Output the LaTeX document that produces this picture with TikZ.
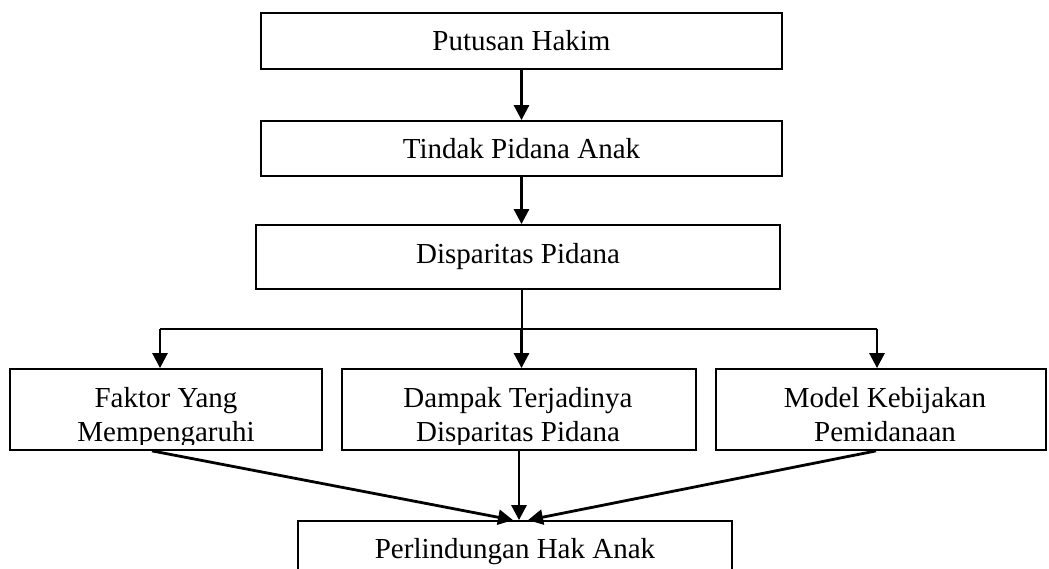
\documentclass[tikz,border=0pt]{standalone}
\usepackage{fontspec}
\setmainfont{Liberation Serif}
\usetikzlibrary{arrows.meta}
\begin{document}
\begin{tikzpicture}[x=1pt,y=1pt,
  boxnode/.style={draw=black, line width=1.8pt, rectangle, inner sep=0pt, font=\fontsize{29}{34}\selectfont},
  txt/.style={inner sep=0pt, align=center, font=\fontsize{29}{34}\selectfont},
  arr/.style={draw=black, line width=2.8pt, -{Triangle[length=15pt,width=15pt]}},
  plain/.style={draw=black, line width=2pt}
]
\useasboundingbox (0,0) rectangle (1049,568);
\clip (0,0) rectangle (1049,568);
\fill[white] (0,0) rectangle (1049,568);

% top chain
\node[boxnode, minimum width=521pt, minimum height=56pt] (b1) at (521.5,527) {Putusan Hakim};
\node[boxnode, minimum width=521pt, minimum height=55pt] (b2) at (521.5,419.5) {Tindak Pidana Anak};
\node[boxnode, minimum width=524pt, minimum height=64pt] (b3) at (518,311) {Disparitas Pidana};

% bottom row boxes
\node[boxnode, minimum width=312pt, minimum height=81pt] (b4) at (166,158.5) {};
\node[boxnode, minimum width=354pt, minimum height=81pt] (b5) at (519,158.5) {};
\node[boxnode, minimum width=330pt, minimum height=81pt] (b6) at (881,158.5) {};
\node[boxnode, minimum width=434pt, minimum height=60pt] (b7) at (515,17) {};

\begin{scope}
\clip (0,124) rectangle (1049,199);
\node[txt, anchor=base] (t4) at (166,127) {Faktor Yang\\Mempengaruhi};
\node[txt, anchor=base] (t5) at (518,127) {Dampak Terjadinya\\Disparitas Pidana};
\node[txt, anchor=base] (t6) at (885,127) {Model Kebijakan\\Pemidanaan};
\end{scope}
\node[txt, anchor=base] (t7) at (515,10) {Perlindungan Hak Anak};

% connectors
\draw[arr] (b1.south) -- (b2.north);
\draw[arr] (b2.south) -- (b2.south |- b3.north);
\coordinate (hub) at (521.5,239);
\coordinate (hl) at (160,239);
\coordinate (hr) at (877,239);
\draw[plain] (hub |- b3.south) -- (hub);
\draw[plain] (hl) -- (hr);
\draw[arr] (hl) -- (hl |- b4.north);
\draw[arr] (hub) -- (hub |- b5.north);
\draw[arr] (hr) -- (hr |- b6.north);
\draw[arr] (b5.south) -- (b5.south |- b7.north);
\draw[arr] ([xshift=-14pt]b4.south) -- ([xshift=-2pt]b7.north);
\draw[arr] ([xshift=-5pt]b6.south) -- ([xshift=13pt]b7.north);
\end{tikzpicture}
\end{document}
